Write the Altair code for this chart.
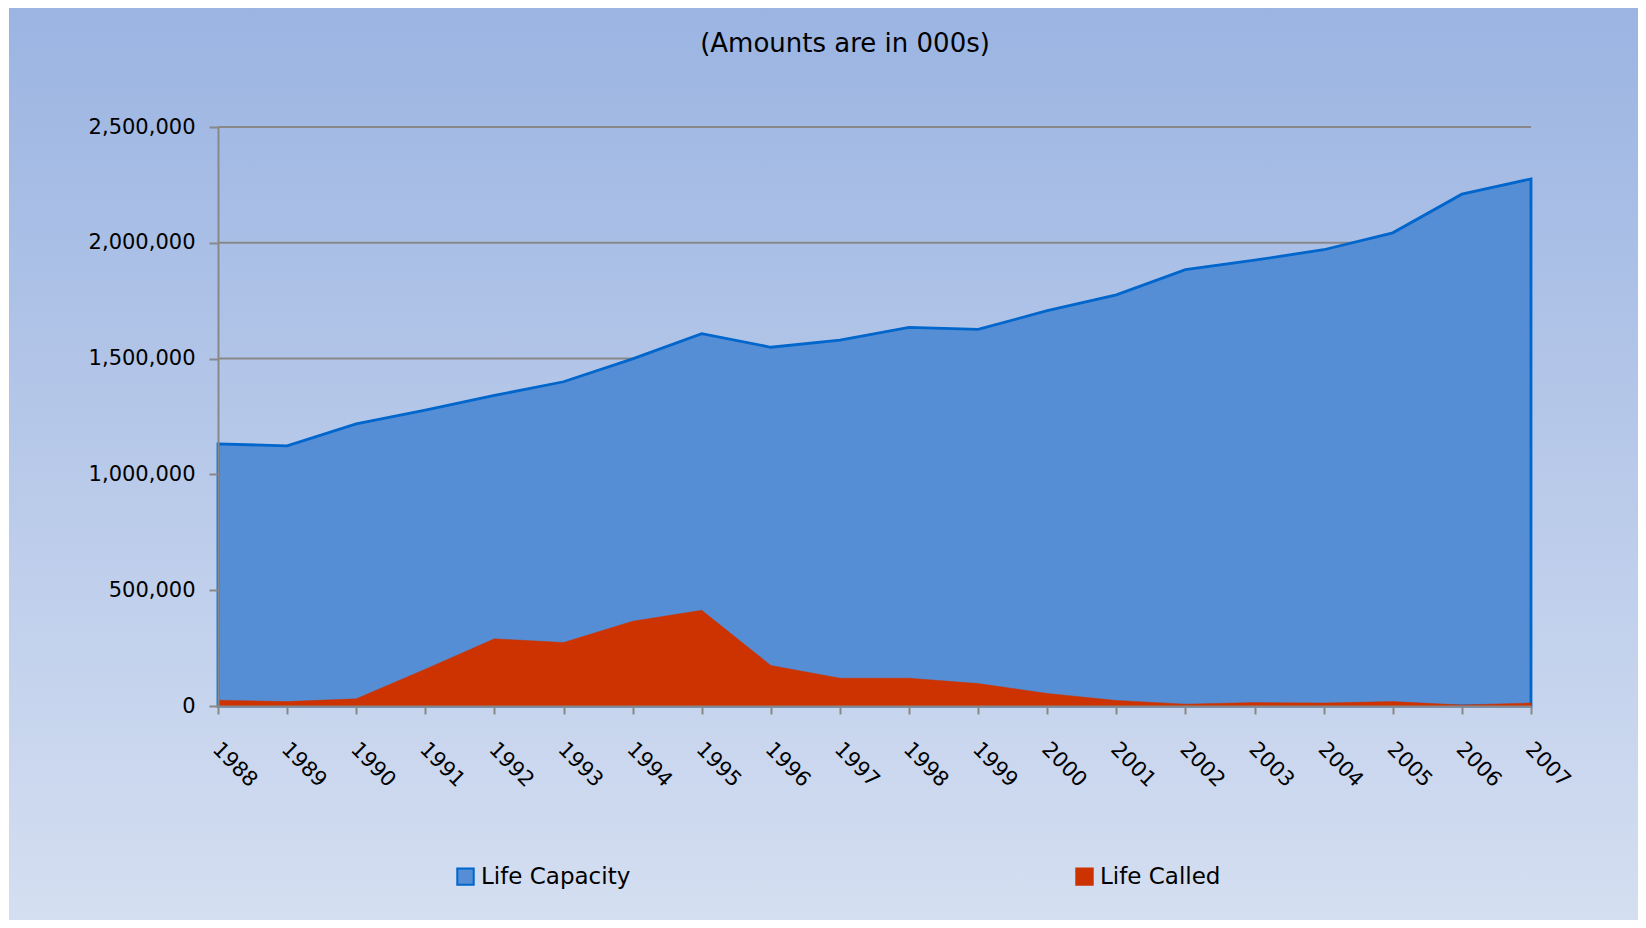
import altair as alt
import pandas as pd

years = list(range(1988, 2008))
life_capacity = [1132000, 1123000, 1218000, 1277000, 1341000, 1400000, 1499000, 1608000,
                 1549000, 1580000, 1635000, 1626000, 1707000, 1775000, 1884000, 1925000,
                 1970000, 2043000, 2210000, 2276000]
life_called = [25000, 19000, 31000, 159000, 290000, 274000, 366000, 413000,
               175000, 120000, 120000, 97000, 54000, 24000, 8000, 15000,
               13000, 19000, 4000, 13000]
series_names = ["Life Capacity", "Life Called"]
y_ticks = [0, 500000, 1000000, 1500000, 2000000, 2500000]
title_text = "(Amounts are in 000s)"

FONT = "DejaVu Sans"
W, H = 1313, 579
PAD_L, PAD_T = 210, 119
TOTAL_W, TOTAL_H = 1630, 912

cap_df = pd.DataFrame({"year": years, "value": life_capacity, "series": series_names[0]})
called_df = pd.DataFrame({"year": years, "value": life_called, "series": series_names[1]})
grid_df = pd.DataFrame({"value": y_ticks})

y_scale = alt.Scale(domain=[0, 2500000], nice=False, zero=True)
y_axis = alt.Axis(values=y_ticks, format=",d", labelExpr="format(datum.value, ',')",
                  title=None, grid=False, zindex=2, labelPadding=14, tickSize=9)
x_scale = alt.Scale(type="point", padding=0)
x_axis = alt.Axis(title=None, labelAngle=45, labelAlign="left", labelBaseline="top",
                  labelPadding=24, labelOffset=5, grid=False, zindex=2, tickSize=8)

fill_scale = alt.Scale(domain=series_names, range=["#558ed5", "#cc3300"])
stroke_scale = alt.Scale(domain=series_names, range=["#0066cc", "#cc3300"])
legend = alt.Legend(title=None, orient="none", legendX=236, legendY=738, direction="horizontal",
                    columns=2, columnPadding=441, symbolType="square", symbolSize=270,
                    symbolStrokeWidth=2, labelFontSize=23, labelFont=FONT, labelColor="#000000",
                    labelOffset=4, padding=0)

bg = alt.Chart(alt.Data(values=[{}])).mark_rect(
    color=alt.Gradient(gradient="linear", x1=0, x2=0, y1=0, y2=1,
                       stops=[alt.GradientStop(color="#9bb4e2", offset=0),
                              alt.GradientStop(color="#dce4f3", offset=1)])
).encode(x=alt.value(9 - 8 - PAD_L), x2=alt.value(TOTAL_W),
         y=alt.value(6 - 8 - PAD_T), y2=alt.value(TOTAL_H))

title = alt.Chart(alt.Data(values=[{"t": title_text}])).mark_text(
    font=FONT, fontSize=26, color="#000000", align="center", baseline="middle"
).encode(text="t:N", x=alt.value(845 - 8 - PAD_L), y=alt.value(44 - 8 - PAD_T))

grid = alt.Chart(grid_df).mark_rule(color="#888888", strokeWidth=2).encode(
    y=alt.Y("value:Q", scale=y_scale, axis=y_axis)
)

cap = alt.Chart(cap_df).mark_area(strokeWidth=2.8, opacity=1).encode(
    x=alt.X("year:O", scale=x_scale, axis=x_axis),
    y=alt.Y("value:Q", scale=y_scale, axis=y_axis, stack=None),
    fill=alt.Fill("series:N", scale=fill_scale, legend=legend),
    stroke=alt.Stroke("series:N", scale=stroke_scale, legend=legend),
)

called = alt.Chart(called_df).mark_area(strokeWidth=0.5, opacity=1).encode(
    x=alt.X("year:O", scale=x_scale, axis=x_axis),
    y=alt.Y("value:Q", scale=y_scale, axis=y_axis, stack=None),
    fill=alt.Fill("series:N", scale=fill_scale, legend=legend),
    stroke=alt.Stroke("series:N", scale=stroke_scale, legend=legend),
)

chart = alt.layer(bg, title, grid, cap, called).properties(
    width=W, height=H,
    autosize=alt.AutoSizeParams(type="none"),
    padding={"left": PAD_L, "top": PAD_T, "right": TOTAL_W - PAD_L - W, "bottom": TOTAL_H - PAD_T - H},
).configure_view(strokeWidth=0).configure_axis(
    domainColor="#888888", domainWidth=2, tickColor="#888888", tickWidth=2,
    labelFont=FONT, labelFontSize=21, labelColor="#000000",
)

chart.save("out.html", embed_options={"renderer": "svg", "actions": False})
